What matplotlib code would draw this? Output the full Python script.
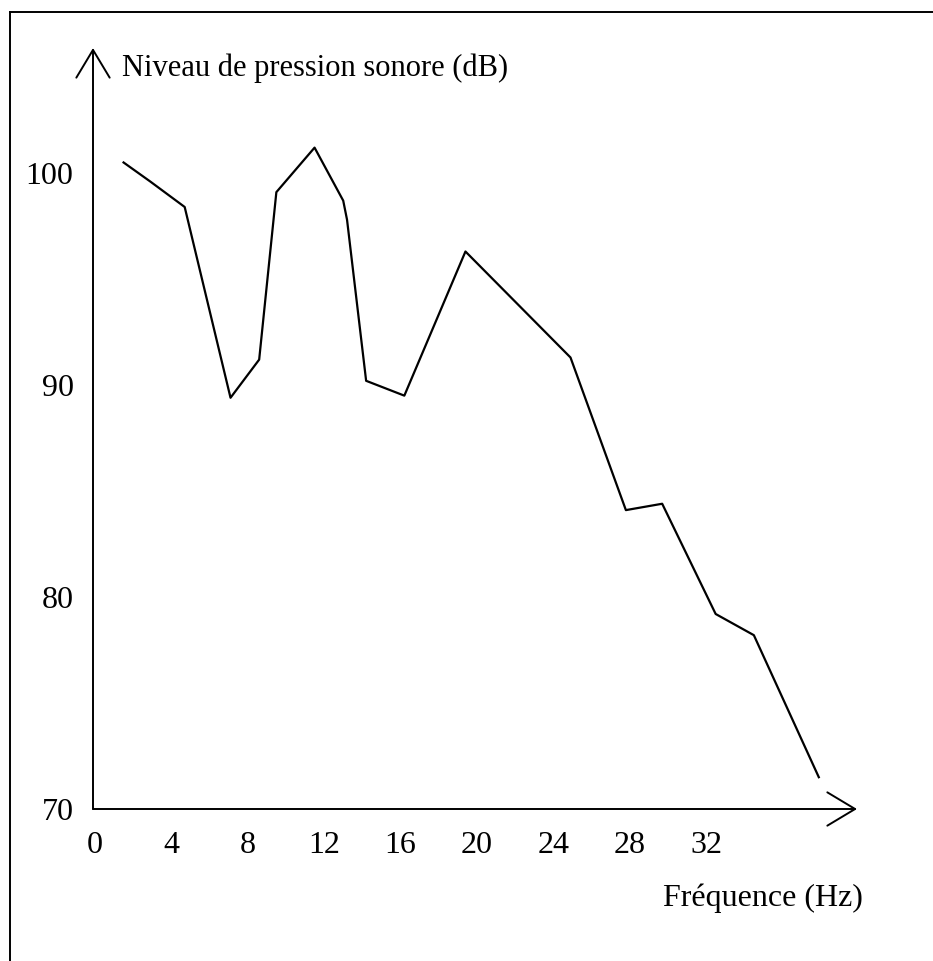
import matplotlib
matplotlib.use("Agg")
import matplotlib.pyplot as plt
from matplotlib.lines import Line2D

# valeurs
freq = [1.5, 2.9, 4.7, 7.1, 8.6, 9.5, 11.5, 13.0, 13.2, 14.2, 16.2, 19.4, 24.9, 27.8, 29.7, 32.5, 34.5, 37.9]
level = [100.5, 99.6, 98.4, 89.4, 91.2, 99.1, 101.2, 98.7, 97.8, 90.2, 89.5, 96.3, 91.3, 84.1, 84.4, 79.2, 78.2, 71.5]
xticks = [0, 4, 8, 12, 16, 20, 24, 28, 32]
yticks = [70, 80, 90, 100]

plt.rcParams["font.family"] = ["Liberation Serif", "DejaVu Serif"]

W, H = 933, 961
fig = plt.figure(figsize=(W / 100, H / 100), dpi=100)
ax = fig.add_axes([93 / W, (H - 809) / H, (857 - 93) / W, (809 - 48) / H])

ax.plot(freq, level, color="black", linewidth=1.6)

ax.set_xlim(-0.1, 39.9)
ax.set_ylim(70, 105.9)
ax.set_xticks(xticks)
ax.set_yticks(yticks)
ax.tick_params(length=0, labelsize=23)
ax.tick_params(axis="x", pad=16)
ax.tick_params(axis="y", pad=14)
for s in ax.spines.values():
    s.set_visible(False)

arrow = dict(arrowstyle="->,head_length=1.0,head_width=0.6", color="black",
             linewidth=1.4, shrinkA=0, shrinkB=0, mutation_scale=20)
ax.annotate("", xy=(0, 1), xytext=(0, 0), xycoords="axes fraction", arrowprops=arrow)
ax.annotate("", xy=(1, 0), xytext=(0, 0), xycoords="axes fraction", arrowprops=arrow)

fig.text(122 / W, 1 - 68 / H, "Niveau de pression sonore (dB)", fontsize=22, va="center", ha="left")
fig.text(863 / W, 1 - 898 / H, "Fréquence (Hz)", fontsize=23, va="center", ha="right")

# cadre
fig.add_artist(Line2D([10 / W, 1], [1 - 12 / H, 1 - 12 / H], color="black", linewidth=1.4))
fig.add_artist(Line2D([10 / W, 10 / W], [0, 1 - 12 / H], color="black", linewidth=1.4))

fig.savefig("out.png", dpi=100)
